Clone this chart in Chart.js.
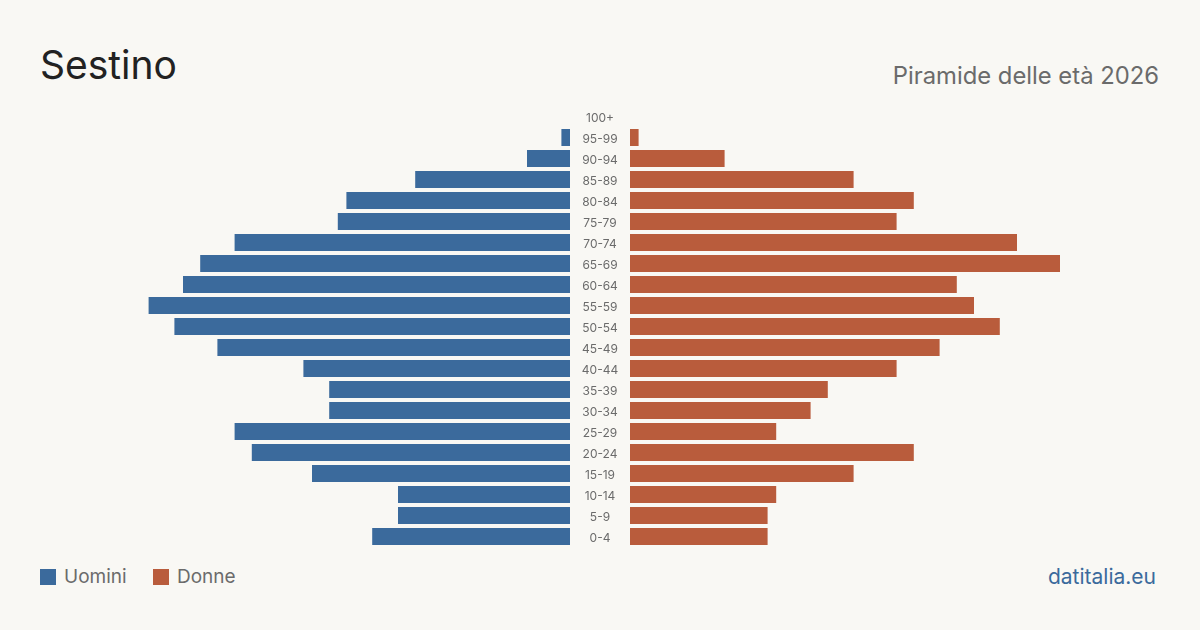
<!DOCTYPE html>
<html>
<head>
<meta charset="utf-8">
<script src="https://cdn.jsdelivr.net/npm/chart.js@4"></script>
<style>
  html, body { margin: 0; padding: 0; }
  body { width: 1200px; height: 630px; background: #f9f8f4; position: relative; overflow: hidden; font-family: Inter, "Noto Sans", sans-serif; }
  #title { position: absolute; left: 40px; top: 45px; font-size: 39px; color: #222; line-height: 1; }
  #subtitle { position: absolute; right: 41px; top: 64px; font-size: 23.8px; color: #6b6b6b; line-height: 1; }
  #leftWrap { position: absolute; left: 140px; top: 106px; width: 430px; height: 441px; }
  #rightWrap { position: absolute; left: 570px; top: 106px; width: 490px; height: 441px; }
  .legend { position: absolute; top: 567px; font-size: 19px; color: #6b6b6b; line-height: 20px; }
  .legend span { display: inline-block; width: 16px; height: 16px; vertical-align: -2px; margin-right: 8px; }
  #source { position: absolute; right: 44px; top: 566px; font-size: 21px; color: #3b6a9c; line-height: 22px; }
</style>
</head>
<body>
<div id="title">Sestino</div>
<div id="subtitle">Piramide delle età 2026</div>
<div id="leftWrap"><canvas id="leftChart"></canvas></div>
<div id="rightWrap"><canvas id="rightChart"></canvas></div>
<div class="legend" style="left:40px"><span style="background:#3b6a9c"></span>Uomini</div>
<div class="legend" style="left:153px"><span style="background:#b95c3c"></span>Donne</div>
<div id="source">datitalia.eu</div>
<script>
var ageGroups = ['100+', '95-99', '90-94', '85-89', '80-84', '75-79', '70-74', '65-69', '60-64', '55-59',
    '50-54', '45-49', '40-44', '35-39', '30-34', '25-29', '20-24', '15-19', '10-14', '5-9', '0-4'];
var men = [0, 1, 5, 18, 26, 27, 39, 43, 45, 49, 46, 41, 31, 28, 28, 39, 37, 30, 20, 20, 23];
var women = [0, 1, 11, 26, 33, 31, 45, 50, 38, 40, 43, 36, 31, 23, 21, 17, 33, 26, 17, 16, 16];
var axisMax = 50;

var blue = '#3b6a9c';
var orange = '#b95c3c';
var labelGap = 60;

Chart.defaults.font.family = 'Inter, "Noto Sans", sans-serif';
Chart.defaults.animation = false;

// draws the age labels in the gap between the two halves
var ageLabels = {
    id: 'ageLabels',
    afterDraw: function(chart) {
        var ctx = chart.ctx;
        var yScale = chart.scales.y;
        var x = chart.chartArea.left - labelGap / 2;
        ctx.save();
        ctx.fillStyle = '#6b6b6b';
        ctx.font = '12px Inter, "Noto Sans", sans-serif';
        ctx.textAlign = 'center';
        ctx.textBaseline = 'middle';
        ageGroups.forEach(function(label, i) {
            ctx.fillText(label, x, yScale.getPixelForValue(i) + 1.5);
        });
        ctx.restore();
    }
};

function makeOptions(reverse, leftPad) {
    return {
        indexAxis: 'y',
        responsive: true,
        maintainAspectRatio: false,
        layout: { padding: { left: leftPad, right: 0, top: 0, bottom: 0 } },
        plugins: { legend: { display: false }, tooltip: { enabled: false } },
        scales: {
            x: { display: false, min: 0, max: axisMax, reverse: reverse },
            y: { display: false }
        }
    };
}

new Chart(document.getElementById('leftChart'), {
    type: 'bar',
    data: {
        labels: ageGroups,
        datasets: [{
            label: 'Uomini',
            data: men,
            backgroundColor: blue,
            categoryPercentage: 1,
            barPercentage: 0.81
        }]
    },
    options: makeOptions(true, 0)
});

new Chart(document.getElementById('rightChart'), {
    type: 'bar',
    data: {
        labels: ageGroups,
        datasets: [{
            label: 'Donne',
            data: women,
            backgroundColor: orange,
            categoryPercentage: 1,
            barPercentage: 0.81
        }]
    },
    options: makeOptions(false, labelGap),
    plugins: [ageLabels]
});
</script>
</body>
</html>
